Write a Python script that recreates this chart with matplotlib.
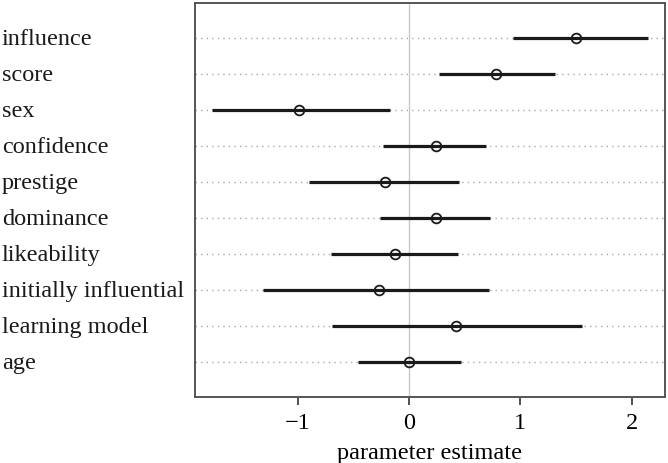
import matplotlib
matplotlib.use("Agg")
import matplotlib.pyplot as plt
import matplotlib.transforms as mtransforms

labels = ["influence", "score", "sex", "confidence", "prestige", "dominance",
          "likeability", "initially influential", "learning model", "age"]
estimates = [1.50, 0.78, -0.99, 0.24, -0.22, 0.24, -0.13, -0.27, 0.42, 0.00]
lower = [0.93, 0.27, -1.77, -0.23, -0.90, -0.26, -0.70, -1.31, -0.69, -0.46]
upper = [2.15, 1.31, -0.17, 0.69, 0.45, 0.73, 0.44, 0.72, 1.55, 0.47]
xticks = [-1, 0, 1, 2]
xtick_labels = ["\u22121", "0", "1", "2"]

plt.rcParams['font.family'] = ['Liberation Serif', 'DejaVu Serif']

fig = plt.figure(figsize=(6.68, 4.63), dpi=100)
ax = fig.add_axes([0.2919, 0.1432, 0.995 - 0.2919, 0.9935 - 0.1432])

n = len(labels)
ypos = [n - i for i in range(n)]

ax.set_xlim(-1.923, 2.297)
ax.set_ylim(0.03, 10.98)

ax.axvline(0, color='#c8c8c8', lw=1, zorder=1)
for y in ypos:
    ax.axhline(y, color='#a8a8a8', lw=1, linestyle=(0, (1, 3)), zorder=1)

for y, e, lo, hi in zip(ypos, estimates, lower, upper):
    ax.plot([lo, hi], [y, y], color='#1a1a1a', lw=2.3, solid_capstyle='butt', zorder=2)
    ax.plot([e], [y], marker='o', ms=7, mfc='none', mec='#1a1a1a', mew=1.3, zorder=3)

ax.set_yticks([])
ax.set_xticks(xticks)
ax.set_xticklabels(xtick_labels, fontsize=17.5)
ax.tick_params(axis='x', length=6, width=1.2, color='#333333', pad=6)
ax.set_xlabel("parameter estimate", fontsize=17.5, labelpad=6)

for s in ax.spines.values():
    s.set_color('#555555')
    s.set_linewidth(1.4)

trans = mtransforms.blended_transform_factory(fig.transFigure, ax.transData)
for y, lab in zip(ypos, labels):
    ax.text(2 / 668, y - 0.04, lab, transform=trans, ha='left', va='center',
            fontsize=17.5, color='#1a1a1a', clip_on=False)

fig.savefig("out.png", dpi=100)
